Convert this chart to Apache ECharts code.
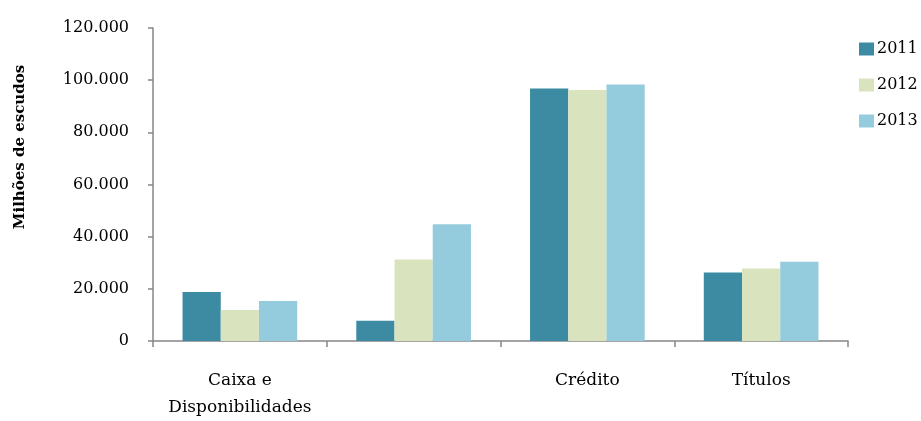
<!DOCTYPE html>
<html>
<head>
<meta charset="utf-8">
<script src="https://cdn.jsdelivr.net/npm/echarts@6/dist/echarts.min.js"></script>
<style>html,body{margin:0;padding:0;background:#fff;}#c{width:921px;height:421px;}</style>
</head>
<body>
<div id="c"></div>
<script>
const categories = ['Caixa e\nDisponibilidades', '', 'Crédito', 'Títulos'];
const seriesNames = ['2011', '2012', '2013'];
const values2011 = [18800, 7800, 96800, 26300];
const values2012 = [11900, 31200, 96200, 27800];
const values2013 = [15300, 44800, 98300, 30400];
const yTicks = { min: 0, max: 120000, interval: 20000 };
const yAxisTitle = 'Milhões de escudos';

const colors = ['#3c8ba3', '#d9e4bf', '#95ccdd'];
const font = 'DejaVu Serif';
const fmt = v => String(v).replace(/\B(?=(\d{3})+(?!\d))/g, '.');

const chart = echarts.init(document.getElementById('c'));
chart.setOption({
  animation: false,
  color: colors,
  textStyle: { fontFamily: font, color: '#000' },
  grid: { left: 153, right: 73, top: 28, bottom: 65, containLabel: false },
  legend: {
    orient: 'vertical', left: 854, top: 36,
    itemWidth: 15, itemHeight: 13, itemGap: 20,
    icon: 'rect',
    textStyle: { fontFamily: font, fontSize: 16, color: '#000', padding: [0, 0, 0, -2] },
    data: seriesNames
  },
  xAxis: {
    type: 'category', data: categories,
    axisLine: { lineStyle: { color: '#868686', width: 1.5 } },
    axisTick: { show: true, length: 6, lineStyle: { color: '#868686', width: 1.5 } },
    axisLabel: { fontFamily: font, fontSize: 17, color: '#000', margin: 26, lineHeight: 27, interval: 0 }
  },
  yAxis: {
    type: 'value', min: yTicks.min, max: yTicks.max, interval: yTicks.interval,
    splitLine: { show: false },
    axisLine: { show: true, lineStyle: { color: '#868686', width: 1.5 } },
    axisTick: { show: true, length: 5, lineStyle: { color: '#868686', width: 1.5 } },
    axisLabel: { fontFamily: font, fontSize: 16, color: '#000', margin: 24, formatter: fmt }
  },
  graphic: [{
    type: 'text', x: 20, y: 147, rotation: Math.PI / 2,
    style: { text: yAxisTitle, fontFamily: font, fontSize: 15, fontWeight: 'bold', fill: '#000', align: 'center', verticalAlign: 'middle' }
  }],
  series: [
    { name: seriesNames[0], type: 'bar', data: values2011, barGap: '0%', barCategoryGap: '34%' },
    { name: seriesNames[1], type: 'bar', data: values2012, barGap: '0%', barCategoryGap: '34%' },
    { name: seriesNames[2], type: 'bar', data: values2013, barGap: '0%', barCategoryGap: '34%' }
  ]
});
</script>
</body>
</html>
